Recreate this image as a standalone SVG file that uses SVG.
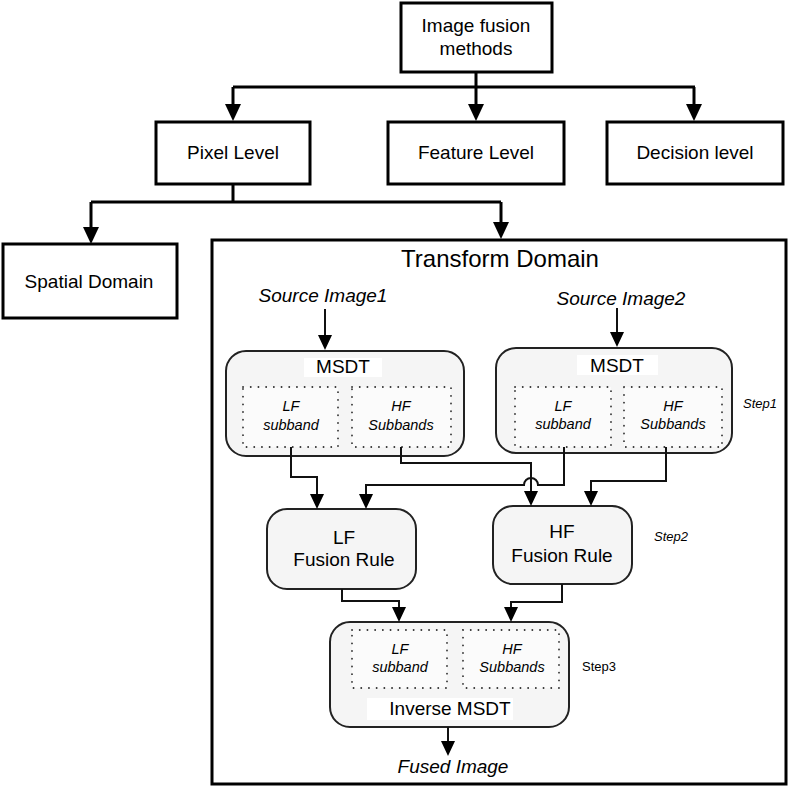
<svg xmlns="http://www.w3.org/2000/svg" width="792" height="789" viewBox="0 0 792 789">
<defs>
<marker id="big" markerUnits="userSpaceOnUse" markerWidth="17" markerHeight="16" viewBox="0 0 17 16" refX="11" refY="8" orient="auto"><path d="M0,0 L17,8 L0,16 z" fill="#000"/></marker>
<marker id="sm" markerUnits="userSpaceOnUse" markerWidth="15" markerHeight="15" viewBox="0 0 15 15" refX="9" refY="7.5" orient="auto"><path d="M0,0.5 L15,7.5 L0,14.5 z" fill="#000"/></marker>
</defs>
<style>
text{font-family:"Liberation Sans",Arial,sans-serif;fill:#000;text-anchor:middle}
.box{fill:#fff;stroke:#000;stroke-width:3}
.frame{fill:none;stroke:#000;stroke-width:3}
.rbox{fill:#f5f5f5;stroke:#222;stroke-width:2}
.dot{fill:#fbfbfb;stroke:#333;stroke-width:1.8;stroke-dasharray:0.1 7.6;stroke-linecap:round}
.lbl{fill:#fff;stroke:none}
.t19{font-size:19px}
.it{font-style:italic}
.sub{font-size:14.5px;font-style:italic}
.step{font-size:13px;text-anchor:start}
.c1{fill:none;stroke:#000;stroke-width:3}
.c2{fill:none;stroke:#111;stroke-width:2}
</style>
<rect width="792" height="789" fill="#fff"/>
<g id="image-fusion-methods">
<rect class="box" x="401" y="3" width="151" height="69"/>
<text class="t19" x="476" y="32">Image fusion</text>
<text class="t19" x="476" y="55">methods</text>
</g>
<g id="pixel-level">
<rect class="box" x="156" y="122" width="154" height="62"/>
<text class="t19" x="233" y="159">Pixel Level</text>
</g>
<g id="feature-level">
<rect class="box" x="388" y="122" width="176" height="62"/>
<text class="t19" x="476" y="159">Feature Level</text>
</g>
<g id="decision-level">
<rect class="box" x="607" y="122" width="176" height="62"/>
<text class="t19" x="695" y="159">Decision level</text>
</g>
<g id="spatial-domain">
<rect class="box" x="3" y="244" width="174" height="74"/>
<text class="t19" x="89" y="288">Spatial Domain</text>
</g>
<g id="transform-domain">
<rect class="frame" x="212" y="240" width="574" height="544"/>
<text x="500" y="267" style="font-size:24px">Transform Domain</text>
</g>
<g id="source-image1">
<text class="t19 it" x="323" y="302">Source Image1</text>
</g>
<g id="source-image2">
<text class="t19 it" x="621" y="305">Source Image2</text>
</g>
<g id="msdt1">
<rect class="rbox" x="226" y="351" width="238" height="105" rx="20"/>
<rect class="lbl" x="304" y="358" width="78" height="19"/>
<text class="t19" x="343" y="373">MSDT</text>
<rect class="dot" x="243" y="387" width="95" height="60"/>
<rect class="dot" x="352" y="387" width="99" height="60"/>
<text class="sub" x="291" y="411">LF</text>
<text class="sub" x="291" y="430">subband</text>
<text class="sub" x="401" y="411">HF</text>
<text class="sub" x="401" y="430">Subbands</text>
</g>
<g id="msdt2">
<rect class="rbox" x="496" y="348" width="236" height="105" rx="20"/>
<rect class="lbl" x="577" y="355" width="81" height="20"/>
<text class="t19" x="617" y="372">MSDT</text>
<rect class="dot" x="515" y="387" width="96" height="60"/>
<rect class="dot" x="624" y="387" width="98" height="60"/>
<text class="sub" x="563" y="411">LF</text>
<text class="sub" x="563" y="429">subband</text>
<text class="sub" x="673" y="411">HF</text>
<text class="sub" x="673" y="429">Subbands</text>
<text class="step it" x="743" y="408">Step1</text>
</g>
<g id="lf-fusion-rule">
<rect class="rbox" x="267" y="509" width="149" height="80" rx="20"/>
<text class="t19" x="344" y="544">LF</text>
<text class="t19" x="344" y="566">Fusion Rule</text>
</g>
<g id="hf-fusion-rule">
<rect class="rbox" x="493" y="506" width="139" height="78" rx="20"/>
<text class="t19" x="562" y="538">HF</text>
<text class="t19" x="562" y="562">Fusion Rule</text>
<text class="step it" x="654" y="541">Step2</text>
</g>
<g id="inverse-msdt">
<rect class="rbox" x="330" y="622" width="239" height="105" rx="20"/>
<rect class="dot" x="352" y="630" width="95" height="58"/>
<rect class="dot" x="463" y="630" width="96" height="58"/>
<text class="sub" x="400" y="654">LF</text>
<text class="sub" x="400" y="672">subband</text>
<text class="sub" x="512" y="654">HF</text>
<text class="sub" x="512" y="672">Subbands</text>
<rect class="lbl" x="367" y="698" width="146" height="22"/>
<text class="t19" x="450" y="715">Inverse MSDT</text>
<text class="step" x="582" y="671">Step3</text>
</g>
<g id="fused-image">
<text class="t19 it" x="453" y="773">Fused Image</text>
</g>
<g id="connectors">
<path class="c1" d="M476,72 V87 M233,87 H695"/>
<path class="c1" d="M233,87 V115" marker-end="url(#big)"/>
<path class="c1" d="M476,87 V115" marker-end="url(#big)"/>
<path class="c1" d="M694,87 V115" marker-end="url(#big)"/>
<path class="c1" d="M233,184 V202 M91,202 H501"/>
<path class="c1" d="M91,202 V238" marker-end="url(#big)"/>
<path class="c1" d="M501,202 V233" marker-end="url(#big)"/>
<path class="c2" d="M325,309 V344" marker-end="url(#sm)"/>
<path class="c2" d="M617,308 V341" marker-end="url(#sm)"/>
<path class="c2" d="M291,447 V477 H317 V503" marker-end="url(#sm)"/>
<path class="c2" d="M564,447 V485 H538 A7,7 0 0 0 524,485 H366 V503" marker-end="url(#sm)"/>
<path class="c2" d="M401,447 V463 H531 V500" marker-end="url(#sm)"/>
<path class="c2" d="M666,447 V481 H591 V500" marker-end="url(#sm)"/>
<path class="c2" d="M342,589 V601 H399 V616" marker-end="url(#sm)"/>
<path class="c2" d="M562,584 V602 H511 V616" marker-end="url(#sm)"/>
<path class="c2" d="M448,727 V750" marker-end="url(#sm)"/>
</g>
</svg>
